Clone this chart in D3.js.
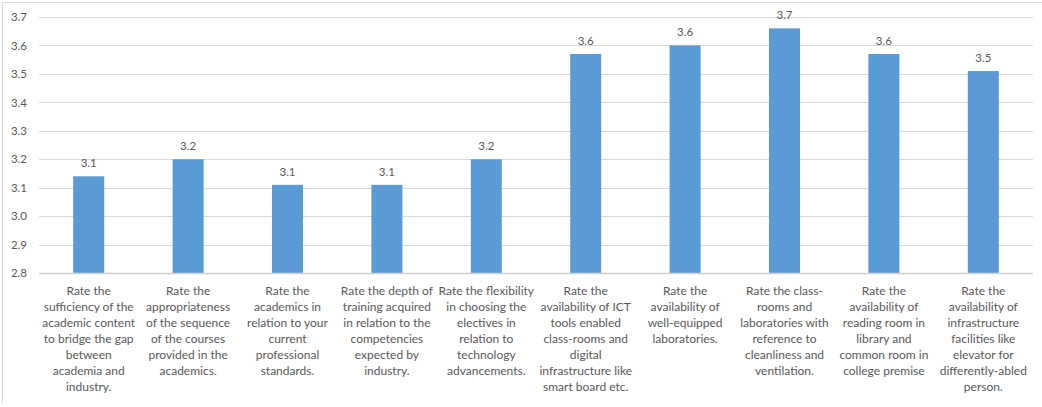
<!DOCTYPE html>
<html>
<head>
<meta charset="utf-8">
<script src="https://cdn.jsdelivr.net/npm/d3@7/dist/d3.min.js"></script>
<style>
  html, body { margin: 0; padding: 0; background: #fff; }
  svg { display: block; }
  text { font-family: Lato, "Open Sans", sans-serif; fill: #595959; }
</style>
</head>
<body>
<svg id="chart" width="1042" height="407"></svg>
<script>
const categories = [
  "Rate the\nsufficiency of the\nacademic content\nto bridge the gap\nbetween\nacademia and\nindustry.",
  "Rate the\nappropriateness\nof the sequence\nof the courses\nprovided in the\nacademics.",
  "Rate the\nacademics in\nrelation to your\ncurrent\nprofessional\nstandards.",
  "Rate the depth of\ntraining acquired\nin relation to the\ncompetencies\nexpected by\nindustry.",
  "Rate the flexibility\nin choosing the\nelectives in\nrelation to\ntechnology\nadvancements.",
  "Rate the\navailability of ICT\ntools enabled\nclass-rooms and\ndigital\ninfrastructure like\nsmart board etc.",
  "Rate the\navailability of\nwell-equipped\nlaboratories.",
  "Rate the class-\nrooms and\nlaboratories with\nreference to\ncleanliness and\nventilation.",
  "Rate the\navailability of\nreading room in\nlibrary and\ncommon room in\ncollege premise",
  "Rate the\navailability of\ninfrastructure\nfacilities like\nelevator for\ndifferently-abled\nperson."
];
const values = [3.14, 3.20, 3.11, 3.11, 3.20, 3.57, 3.60, 3.66, 3.57, 3.51];
const yTicks = [2.8, 2.9, 3.0, 3.1, 3.2, 3.3, 3.4, 3.5, 3.6, 3.7];

const svg = d3.select("#chart");
const mLeft = 39, mRight = 1033, mTop = 17, mBottom = 273;

// outer chart border
svg.append("path")
  .attr("d", "M2.5,403 V2.5 H1042")
  .attr("fill", "none").attr("stroke", "#d9d9d9").attr("stroke-width", 1);

const x = d3.scaleBand().domain(d3.range(categories.length)).range([mLeft, mRight]).paddingInner(0.688).paddingOuter(0.344);
const y = d3.scaleLinear().domain([2.8, 3.7]).range([mBottom, mTop]);

// gridlines
svg.append("g").selectAll("line").data(yTicks.slice(1)).join("line")
  .attr("x1", mLeft).attr("x2", mRight)
  .attr("y1", d => Math.round(y(d)) + 0.5).attr("y2", d => Math.round(y(d)) + 0.5)
  .attr("stroke", "#d9d9d9").attr("stroke-width", 1);

// y axis labels
const yAxis = d3.axisLeft(y).tickValues(yTicks).tickFormat(d3.format(".1f")).tickSize(0).tickPadding(12);
const ya = svg.append("g").attr("transform", `translate(${mLeft},0)`).call(yAxis);
ya.select(".domain").remove();
ya.selectAll("text").attr("font-size", "11.5px").style("font-family", "Lato, sans-serif").attr("fill", "#595959");

// bars
svg.append("g").selectAll("rect").data(values).join("rect")
  .attr("x", (d, i) => x(i))
  .attr("width", x.bandwidth())
  .attr("y", d => y(d))
  .attr("height", d => mBottom - y(d))
  .attr("fill", "#5b9bd5");

// x axis line
svg.append("line").attr("x1", mLeft).attr("x2", mRight)
  .attr("y1", mBottom + 0.5).attr("y2", mBottom + 0.5)
  .attr("stroke", "#d0d0d0").attr("stroke-width", 1.5);

// data labels
svg.append("g").selectAll("text").data(values).join("text")
  .attr("x", (d, i) => x(i) + x.bandwidth() / 2)
  .attr("y", d => y(d) - 9)
  .attr("text-anchor", "middle")
  .attr("font-size", "11.5px")
  .text(d => d3.format(".1f")(d));

// category labels
const cl = svg.append("g").selectAll("text").data(categories).join("text")
  .attr("text-anchor", "middle")
  .attr("font-size", "12px")
  .attr("transform", (d, i) => `translate(${x(i) + x.bandwidth() / 2},295)`);
cl.selectAll("tspan").data(d => d.split("\n")).join("tspan")
  .attr("x", 0).attr("y", (d, i) => i * 16).text(d => d);
</script>
</body>
</html>
